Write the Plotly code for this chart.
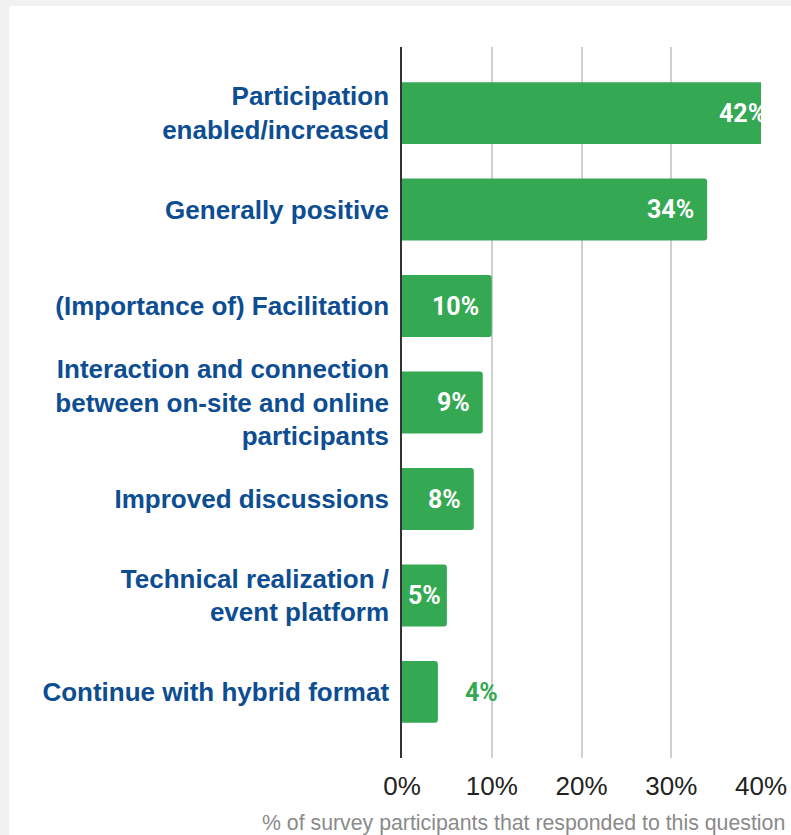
import plotly.graph_objects as go

categories = [
    "Participation<br>enabled/increased",
    "Generally positive",
    "(Importance of) Facilitation",
    "Interaction and connection<br>between on-site and online<br>participants",
    "Improved discussions",
    "Technical realization /<br>event platform",
    "Continue with hybrid format",
]
values = [42, 34, 10, 9, 8, 5, 4]
value_labels = ["42%", "34%", "10%", "9%", "8%", "5%", "4%"]
x_ticks = [0, 10, 20, 30, 40]
x_tick_labels = ["0%", "10%", "20%", "30%", "40%"]
x_title = "% of survey participants that responded to this question"

GREEN = "#34a853"
BLUE = "#0d4d92"
XMAX = 40

fig = go.Figure()
fig.add_trace(go.Bar(
    x=values, y=categories, orientation="h",
    marker=dict(color=GREEN, cornerradius=3, line=dict(width=0)),
    width=0.64, hoverinfo="skip",
))

annotations = []
for cat, v, lab in zip(categories, values, value_labels):
    if v > 6:
        annotations.append(dict(
            x=v / XMAX, xref="paper", y=cat, yref="y", text=lab, showarrow=False,
            xanchor="right", xshift=-11,
            font=dict(family="Roboto", size=25, color="white", weight="bold"),
        ))
    elif v >= 5:
        annotations.append(dict(
            x=v / 2 / XMAX, xref="paper", y=cat, yref="y", text=lab, showarrow=False,
            xanchor="center",
            font=dict(family="Roboto", size=25, color="white", weight="bold"),
        ))
    else:
        annotations.append(dict(
            x=v / XMAX, xref="paper", y=cat, yref="y", text=lab, showarrow=False,
            xanchor="left", xshift=25,
            font=dict(family="Roboto", size=25, color=GREEN, weight="bold"),
        ))

annotations.append(dict(
    x=1.072, xref="paper", y=-0.092, yref="paper", text=x_title, showarrow=False,
    xanchor="right", yanchor="middle",
    font=dict(family="Liberation Sans, Arial", size=21.3, color="#8a8a8a"),
))

fig.update_layout(
    width=791, height=835,
    margin=dict(l=402, r=30, t=47, b=77),
    paper_bgcolor="#f1f1f1",
    plot_bgcolor="white",
    showlegend=False,
    annotations=annotations,
    shapes=[dict(type="rect", xref="paper", yref="paper",
                 x0=-1.0947, x1=1.2, y0=-0.2, y1=1.0577,
                 fillcolor="white", line=dict(width=0), layer="below")],
    xaxis=dict(
        range=[0, XMAX], tickvals=x_ticks, ticktext=x_tick_labels,
        showgrid=True, gridcolor="#cfcfcf", gridwidth=1.5, zeroline=False,
        showline=False, ticks="", ticklabelstandoff=10, automargin=False,
        tickfont=dict(family="Liberation Sans, Arial", size=26, color="#222222"),
        fixedrange=True,
    ),
    yaxis=dict(
        type="category", categoryorder="array", categoryarray=categories,
        range=[6.684, -0.684], automargin=False,
        showgrid=False, zeroline=False, showline=True,
        linecolor="#333333", linewidth=1.5, ticks="", ticklabelstandoff=6,
        tickfont=dict(family="Liberation Sans, Arial", size=26, color=BLUE, weight="bold"),
        fixedrange=True,
    ),
)

fig.write_html(
    "out.html",
    config={"displayModeBar": False},
    post_script="document.body.style.margin='0';document.body.style.overflow='hidden';",
)
